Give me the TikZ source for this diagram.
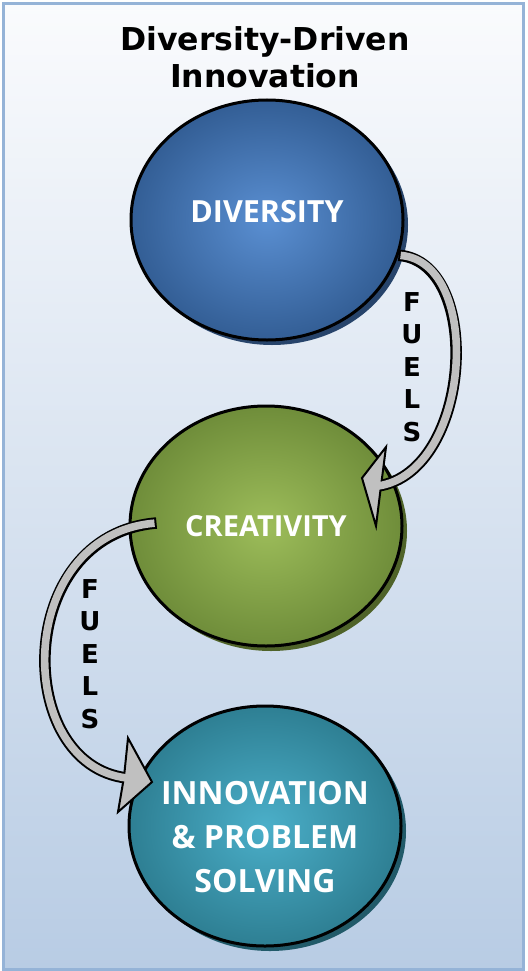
\documentclass[tikz,border=0pt]{standalone}
\usepackage{fontspec}
\setmainfont{DejaVu Sans}
\newfontfamily\bubblefont{Open Sans}
\usepackage{xcolor}
\usetikzlibrary{shapes.geometric,shadows}

\definecolor{paneltop}{HTML}{FAFBFD}
\definecolor{panelbottom}{HTML}{B8CCE4}
\definecolor{panelborder}{HTML}{95B3D7}
\definecolor{arrowgray}{HTML}{C0C0C0}
\definecolor{divin}{HTML}{5A8FD2}
\definecolor{divout}{HTML}{335E95}
\definecolor{divshade}{HTML}{27446B}
\definecolor{crein}{HTML}{9DBD5A}
\definecolor{creout}{HTML}{6F8D3A}
\definecolor{creshade}{HTML}{4F6329}
\definecolor{innin}{HTML}{4BAFC9}
\definecolor{innout}{HTML}{2E7F93}
\definecolor{innshade}{HTML}{215A69}

\begin{document}
\begin{tikzpicture}[x=1pt, y=-1pt,
    bubble/.style={ellipse, draw=black, line width=3pt, minimum width=272pt,
        minimum height=240pt, inner sep=0pt},
    bubbletext/.style={inner sep=0pt, align=center, text=white,
        font=\bubblefont\bfseries\fontsize{29}{44}\selectfont},
    fuels/.style={inner sep=0pt, align=center,
        font=\bfseries\fontsize{26}{32.5}\selectfont},
    shaftout/.style={line width=11.5pt, black},
    shaftin/.style={line width=7.6pt, arrowgray, shorten <=2pt},
    arrowhead/.style={fill=arrowgray, draw=black, line width=2pt}]

    % panel
    \useasboundingbox (0,0) rectangle (527,971);
    \shade[top color=paneltop, bottom color=panelbottom] (3.5,3.5) rectangle (523.5,969.5);
    \draw[line width=3pt, panelborder] (3.5,3.5) rectangle (523.5,969.5);

    \node[inner sep=0pt, align=center, font=\bfseries\fontsize{31.5}{37}\selectfont]
        (title) at (265,57) {Diversity-Driven\\Innovation};

    % the three bubbles
    \node[bubble, inner color=divin, outer color=divout,
        drop shadow={shadow xshift=5pt, shadow yshift=-5pt, fill=divshade, opacity=1}]
        (div) at (267,220) {};
    \node[bubble, inner color=crein, outer color=creout,
        drop shadow={shadow xshift=5pt, shadow yshift=-5pt, fill=creshade, opacity=1}]
        (cre) at (266,526) {};
    \node[bubble, inner color=innin, outer color=innout,
        drop shadow={shadow xshift=5pt, shadow yshift=-5pt, fill=innshade, opacity=1}]
        (inn) at (265,826) {};

    \node[bubbletext, font=\bubblefont\bfseries\fontsize{30.5}{44}\selectfont]
        (divtext) at ([yshift=8pt]div.center) {DIVERSITY};
    \node[bubbletext] (cretext) at (cre.center) {CREATIVITY};
    \node[bubbletext, font=\bubblefont\bfseries\fontsize{32}{44}\selectfont]
        (inntext) at ([yshift=-11pt]inn.center) {INNOVATION\\\& PROBLEM\\SOLVING};

    % diversity -> creativity
    \coordinate (a1) at (378,486);
    \draw[shaftout] (div.-15) .. controls (484,262) and (472,472) .. (a1);
    \filldraw[arrowhead] (362,478) -- (386,447) -- (381,486) -- (376,526) -- cycle;
    \draw[shaftin] (div.-15) .. controls (484,262) and (472,472) .. (a1);

    % creativity -> innovation
    \coordinate (c1) at ([shift={(28,-3)}]cre.west);
    \coordinate (a2) at (127,778);
    \draw[shaftout] (c1) .. controls (13,535) and (13,765) .. (a2);
    \filldraw[arrowhead] (152,782) -- (128,738) -- (124,777) -- (118,812) -- cycle;
    \draw[shaftin] (c1) .. controls (13,535) and (13,765) .. (a2);

    \node[fuels] (f1) at (412,367) {F\\U\\E\\L\\S};
    \node[fuels] (f2) at (90,654) {F\\U\\E\\L\\S};
\end{tikzpicture}
\end{document}
